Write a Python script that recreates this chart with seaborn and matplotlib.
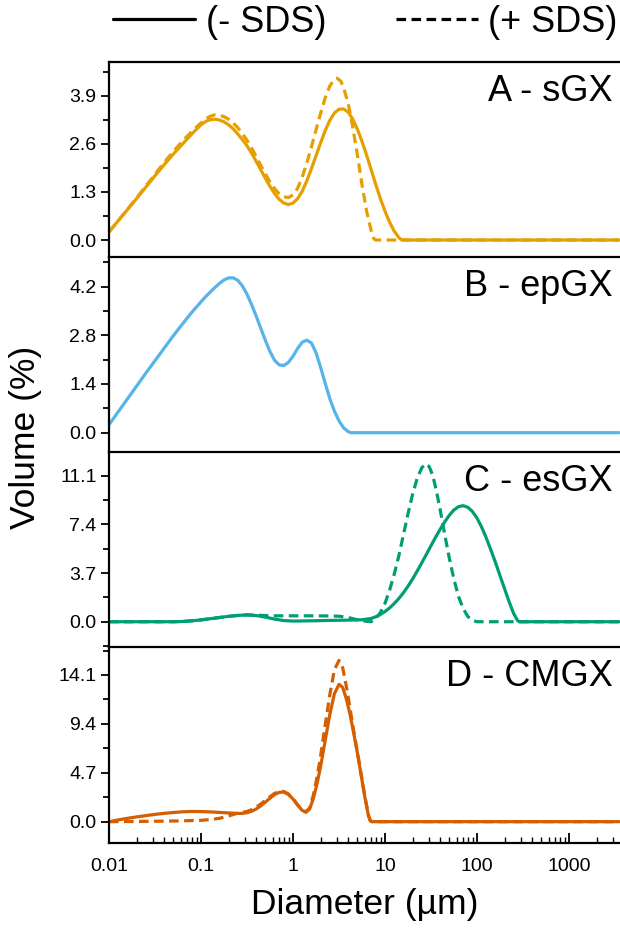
import numpy as np
import pandas as pd
import matplotlib
matplotlib.use("Agg")
import matplotlib.pyplot as plt
import seaborn as sns
from matplotlib.lines import Line2D
from matplotlib.ticker import FixedLocator, AutoMinorLocator, LogLocator, FuncFormatter, NullFormatter

# ---------------- data (log10 of diameter in µm, volume %) ----------------
a_minus_logd = [-2.0, -1.9, -1.8, -1.7, -1.6, -1.5, -1.4, -1.3, -1.2, -1.1, -1.0, -0.95, -0.9, -0.85, -0.8,
                -0.75, -0.7, -0.65, -0.6, -0.55, -0.5, -0.45, -0.4, -0.35, -0.3, -0.25, -0.2, -0.15, -0.1,
                -0.05, 0.0, 0.05, 0.1, 0.15, 0.2, 0.25, 0.3, 0.35, 0.4, 0.45, 0.5, 0.55, 0.6, 0.65, 0.7,
                0.75, 0.8, 0.85, 0.9, 0.95, 1.0, 1.05, 1.1, 1.15, 1.18, 3.544]
a_minus_vol = [0.22, 0.52, 0.82, 1.12, 1.43, 1.74, 2.04, 2.33, 2.60, 2.87, 3.12, 3.21, 3.26, 3.27, 3.25,
               3.20, 3.12, 3.01, 2.87, 2.72, 2.55, 2.35, 2.13, 1.90, 1.67, 1.45, 1.26, 1.10, 1.00,
               0.96, 1.00, 1.12, 1.32, 1.60, 1.93, 2.28, 2.63, 2.96, 3.24, 3.44, 3.54, 3.55, 3.46, 3.27, 3.00,
               2.67, 2.30, 1.90, 1.50, 1.12, 0.78, 0.48, 0.24, 0.07, 0.0, 0.0]
a_plus_logd = [-2.0, -1.9, -1.8, -1.7, -1.6, -1.5, -1.4, -1.3, -1.2, -1.1, -1.0, -0.95, -0.9, -0.85, -0.8,
               -0.75, -0.7, -0.65, -0.6, -0.55, -0.5, -0.45, -0.4, -0.35, -0.3, -0.25, -0.2, -0.15, -0.1,
               -0.05, 0.0, 0.05, 0.1, 0.15, 0.2, 0.25, 0.3, 0.35, 0.4, 0.45, 0.48, 0.52, 0.55, 0.6, 0.65,
               0.7, 0.75, 0.8, 0.85, 0.88, 0.9, 3.544]
a_plus_vol = [0.22, 0.52, 0.83, 1.14, 1.46, 1.78, 2.10, 2.40, 2.68, 2.94, 3.17, 3.28, 3.35, 3.39, 3.38,
              3.34, 3.27, 3.17, 3.04, 2.88, 2.70, 2.49, 2.26, 2.02, 1.79, 1.57, 1.39, 1.25, 1.17,
              1.15, 1.22, 1.40, 1.70, 2.08, 2.52, 2.98, 3.43, 3.85, 4.17, 4.35, 4.38, 4.30, 4.12, 3.70, 3.05,
              2.30, 1.50, 0.78, 0.25, 0.03, 0.0, 0.0]

b_minus_logd = [-2.0, -1.9, -1.8, -1.7, -1.6, -1.5, -1.4, -1.3, -1.2, -1.1, -1.0, -0.95, -0.9, -0.85, -0.8,
                -0.75, -0.7, -0.65, -0.6, -0.55, -0.5, -0.45, -0.4, -0.35, -0.3, -0.25, -0.2, -0.15, -0.1,
                -0.05, 0.0, 0.05, 0.1, 0.15, 0.2, 0.25, 0.3, 0.35, 0.4, 0.45, 0.5, 0.55, 0.6, 0.63, 3.544]
b_minus_vol = [0.23, 0.60, 0.97, 1.34, 1.71, 2.07, 2.43, 2.79, 3.13, 3.46, 3.76, 3.91, 4.04, 4.17, 4.29,
               4.39, 4.45, 4.45, 4.38, 4.22, 3.98, 3.68, 3.35, 3.00, 2.65, 2.33, 2.08, 1.95, 1.93,
               2.02, 2.20, 2.42, 2.60, 2.66, 2.58, 2.30, 1.88, 1.42, 0.98, 0.62, 0.34, 0.14, 0.03, 0.0, 0.0]

c_minus_logd = [-2.0, -1.3, -1.2, -1.1, -1.0, -0.9, -0.8, -0.7, -0.6, -0.5, -0.4, -0.3, -0.2, -0.1, 0.0,
                0.2, 0.4, 0.6, 0.75, 0.85, 0.9, 0.95, 1.0, 1.05, 1.1, 1.15, 1.2, 1.25, 1.3, 1.35, 1.4,
                1.45, 1.5, 1.55, 1.6, 1.65, 1.7, 1.75, 1.8, 1.85, 1.9, 1.95, 2.0, 2.05, 2.1, 2.15, 2.2,
                2.25, 2.3, 2.35, 2.4, 2.44, 2.46, 3.544]
c_minus_vol = [0.0, 0.0, 0.02, 0.07, 0.14, 0.23, 0.32, 0.41, 0.48, 0.52, 0.47, 0.35, 0.20, 0.09, 0.05,
               0.07, 0.10, 0.12, 0.15, 0.25, 0.38, 0.55, 0.78, 1.05, 1.38, 1.76, 2.20, 2.70, 3.25, 3.85, 4.48,
               5.12, 5.78, 6.42, 7.03, 7.60, 8.10, 8.50, 8.75, 8.82, 8.70, 8.38, 7.88, 7.20, 6.38, 5.47, 4.52,
               3.50, 2.50, 1.50, 0.60, 0.10, 0.0, 0.0]
c_plus_logd = [-2.0, -1.3, -1.2, -1.1, -1.0, -0.9, -0.8, -0.7, -0.6, -0.5, -0.4, -0.3, -0.2, 0.0, 0.2,
               0.4, 0.5, 0.6, 0.7, 0.8, 0.85, 0.9, 0.95, 1.0, 1.05, 1.1, 1.15, 1.2, 1.25, 1.3, 1.35,
               1.4, 1.44, 1.48, 1.52, 1.56, 1.6, 1.65, 1.7, 1.75, 1.8, 1.85, 1.9, 1.95, 2.0, 3.544]
c_plus_vol = [0.0, 0.0, 0.02, 0.07, 0.14, 0.23, 0.32, 0.41, 0.48, 0.52, 0.50, 0.47, 0.45, 0.45, 0.45,
              0.44, 0.42, 0.32, 0.15, 0.03, 0.0, 0.25, 0.70, 1.40, 2.40, 3.60, 5.00, 6.60, 8.20, 9.70, 10.90,
              11.70, 12.00, 11.80, 11.10, 9.90, 8.50, 6.60, 4.80, 3.20, 1.90, 1.00, 0.40, 0.10, 0.0, 0.0]

d_minus_logd = [-2.0, -1.9, -1.8, -1.7, -1.6, -1.5, -1.4, -1.3, -1.2, -1.1, -1.0, -0.9, -0.8, -0.7, -0.6,
                -0.55, -0.5, -0.45, -0.4, -0.35, -0.3, -0.25, -0.2, -0.15, -0.1, -0.05, 0.0, 0.05, 0.1,
                0.14, 0.18, 0.22, 0.26, 0.3, 0.35, 0.4, 0.45, 0.5, 0.54, 0.58, 0.62, 0.66, 0.7, 0.74,
                0.78, 0.82, 0.84, 0.86, 3.544]
d_minus_vol = [0.0, 0.17, 0.32, 0.46, 0.58, 0.70, 0.80, 0.88, 0.95, 0.98, 0.97, 0.94, 0.89, 0.84, 0.79,
               0.80, 0.86, 1.00, 1.22, 1.52, 1.88, 2.26, 2.60, 2.82, 2.85, 2.62, 2.18, 1.60, 1.08,
               0.90, 1.20, 2.20, 3.60, 5.30, 7.80, 10.30, 12.30, 13.20, 12.90, 11.80, 10.30, 8.50, 6.60, 4.50,
               2.40, 0.60, 0.10, 0.0, 0.0]
d_plus_logd = [-2.0, -1.7, -1.4, -1.2, -1.0, -0.9, -0.8, -0.7, -0.6, -0.55, -0.5, -0.45, -0.4, -0.35,
               -0.3, -0.25, -0.2, -0.15, -0.1, -0.05, 0.0, 0.05, 0.1, 0.14, 0.18, 0.22, 0.26, 0.3, 0.35,
               0.4, 0.45, 0.5, 0.54, 0.58, 0.62, 0.66, 0.7, 0.74, 0.78, 0.82, 0.84, 0.86, 3.544]
d_plus_vol = [0.0, 0.02, 0.05, 0.08, 0.13, 0.20, 0.32, 0.55, 0.82, 0.90, 0.98, 1.15, 1.40, 1.70,
              2.05, 2.40, 2.72, 2.92, 2.90, 2.66, 2.20, 1.62, 1.12, 0.95, 1.30, 2.50, 4.20, 6.30, 9.30,
              12.20, 14.60, 15.50, 14.80, 13.00, 10.90, 8.70, 6.70, 4.60, 2.50, 0.60, 0.10, 0.0, 0.0]

panel_labels = ["A - sGX", "B - epGX", "C - esGX", "D - CMGX"]
panel_colors = ["#E69F00", "#56B4E9", "#009E73", "#D55E00"]
y_major_ticks = [[0.0, 1.3, 2.6, 3.9], [0.0, 1.4, 2.8, 4.2], [0.0, 3.7, 7.4, 11.1], [0.0, 4.7, 9.4, 14.1]]
y_limits = [(-0.46, 4.82), (-0.555, 5.05), (-1.92, 12.9), (-2.05, 16.79)]
x_ticks = [0.01, 0.1, 1, 10, 100, 1000]
cond_labels = ["(- SDS)", "(+ SDS)"]

# ---------------- build tables ----------------
def table(logd, vol, cond):
    return pd.DataFrame({"Diameter": 10 ** np.asarray(logd, float), "Volume": vol, "cond": cond})

panels = [
    pd.concat([table(a_plus_logd, a_plus_vol, cond_labels[1]), table(a_minus_logd, a_minus_vol, cond_labels[0])]),
    table(b_minus_logd, b_minus_vol, cond_labels[0]),
    pd.concat([table(c_plus_logd, c_plus_vol, cond_labels[1]), table(c_minus_logd, c_minus_vol, cond_labels[0])]),
    pd.concat([table(d_plus_logd, d_plus_vol, cond_labels[1]), table(d_minus_logd, d_minus_vol, cond_labels[0])]),
]

sns.set_style("ticks")
plt.rcParams["font.family"] = ["Liberation Sans", "DejaVu Sans"]
plt.rcParams.update({
    "axes.linewidth": 1.6, "axes.edgecolor": "black", "text.color": "black",
    "axes.labelcolor": "black", "xtick.color": "black", "ytick.color": "black",
    "lines.solid_joinstyle": "round", "lines.dash_joinstyle": "round",
    "lines.solid_capstyle": "round",
})

W, H = 620, 930
fig = plt.figure(figsize=(6.2, 9.3), dpi=100)
left = 109 / W
width = (W - 109) / W
bounds = [(62, 257), (257, 452), (452, 647), (647, 843)]
dash_map = {cond_labels[0]: "", cond_labels[1]: (3, 1.7)}
lw = 2.3

axes = []
for i, (top, bot) in enumerate(bounds):
    ax = fig.add_axes([left, 1 - bot / H, width, (bot - top) / H])
    axes.append(ax)
    df = panels[i]
    sns.lineplot(data=df, x="Diameter", y="Volume", style="cond", dashes=dash_map,
                 color=panel_colors[i], linewidth=lw, ax=ax, legend=False,
                 sort=False, estimator=None)
    ax.set_xscale("log")
    ax.set_xlim(0.01, 10 ** (-2 + (W - 109) / 92))
    ax.set_ylim(*y_limits[i])
    ax.yaxis.set_major_locator(FixedLocator(y_major_ticks[i]))
    ax.yaxis.set_major_formatter(FuncFormatter(lambda v, p: f"{v:.1f}"))
    ax.yaxis.set_minor_locator(AutoMinorLocator(2))
    ax.tick_params(axis="y", which="major", direction="out", length=6, width=1.3, labelsize=14, pad=3)
    ax.tick_params(axis="y", which="minor", direction="out", length=4.5, width=1.3)
    ax.spines["right"].set_visible(False)
    ax.set_ylabel("")
    ax.set_xlabel("")
    ax.text(0.986, 0.802, panel_labels[i], transform=ax.transAxes, ha="right",
            va="baseline", fontsize=26)
    if i < 3:
        ax.spines["bottom"].set_visible(False)
        ax.tick_params(axis="x", which="both", bottom=False, labelbottom=False)
    else:
        ax.xaxis.set_major_locator(FixedLocator(x_ticks))
        ax.xaxis.set_major_formatter(FuncFormatter(lambda v, p: f"{v:g}"))
        ax.xaxis.set_minor_locator(LogLocator(base=10, subs=np.arange(2, 10), numticks=20))
        ax.xaxis.set_minor_formatter(NullFormatter())
        ax.tick_params(axis="x", which="major", direction="in", length=7, width=1.3, labelsize=14, pad=11)
        ax.tick_params(axis="x", which="minor", direction="in", length=4, width=1.0)
        ax.set_xlabel("Diameter (µm)", fontsize=25.5, labelpad=9)

fig.text(26 / W, 1 - 437 / H, "Volume (%)", rotation=90, ha="center", va="center", fontsize=25.5)

handles = [Line2D([], [], color="black", lw=lw, linestyle="-"),
           Line2D([], [], color="black", lw=lw, linestyle=(0, (3, 1.7)))]
fig.legend(handles, cond_labels, loc="center left", bbox_to_anchor=(113 / W, 1 - 22 / H),
           ncol=2, frameon=False, fontsize=26, handlelength=2.27, handletextpad=0.3,
           columnspacing=1.92, borderaxespad=0, borderpad=0)

fig.savefig("out.png", dpi=100)
